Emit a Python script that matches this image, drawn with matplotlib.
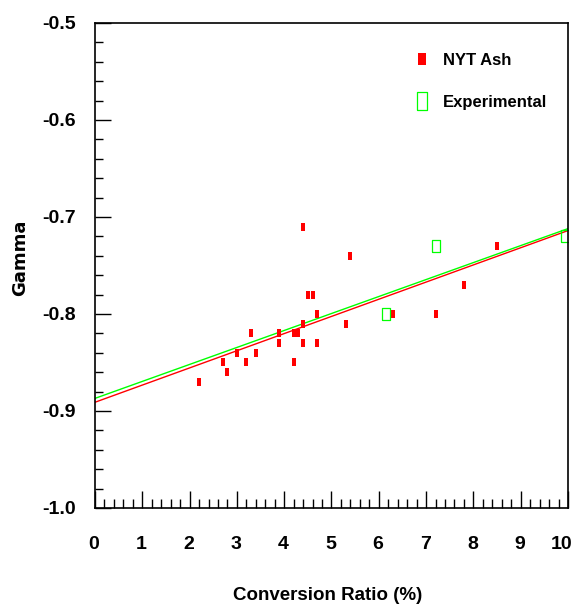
import matplotlib
matplotlib.use("Agg")
import matplotlib.pyplot as plt
import matplotlib.transforms as mtransforms
from matplotlib.lines import Line2D
from matplotlib.ticker import MultipleLocator, FormatStrFormatter
import numpy as np

# data
nyt_x = [2.2, 2.7, 2.8, 3.0, 3.2, 3.3, 3.4, 3.9, 3.9, 4.2, 4.2, 4.3,
         4.4, 4.4, 4.4, 4.5, 4.6, 4.7, 4.7, 5.3, 5.4, 6.3, 7.2, 7.8, 8.5]
nyt_y = [-0.87, -0.85, -0.86, -0.84, -0.85, -0.82, -0.84, -0.82, -0.83, -0.82, -0.85, -0.82,
         -0.71, -0.81, -0.83, -0.78, -0.78, -0.80, -0.83, -0.81, -0.74, -0.80, -0.80, -0.77, -0.73]
exp_x = [6.15, 7.2, 9.93]
exp_y = [-0.80, -0.73, -0.72]

# linear fits (intercept, slope) as drawn in the reference
nyt_fit = (-0.891, 0.0177)
exp_fit = (-0.887, 0.0175)

RED = "#ff0000"
GREEN = "#00ff00"
FONT = ["Liberation Sans", "DejaVu Sans"]

# tall thin rectangle marker
rect = [(-0.3, -0.5), (0.3, -0.5), (0.3, 0.5), (-0.3, 0.5), (-0.3, -0.5)]

fig = plt.figure(figsize=(5.77, 6.13), dpi=100)
ax = fig.add_axes([0.1646, 0.1713, 0.8198, 0.7912])

xs = np.array([0.0, 10.0])
ax.plot(xs, nyt_fit[0] + nyt_fit[1] * xs, color=RED, lw=1.0)
ax.plot(xs, exp_fit[0] + exp_fit[1] * xs, color=GREEN, lw=1.0)

ax.plot(nyt_x, nyt_y, ls="none", marker=rect, ms=5.8, color=RED, mec=RED, mew=0)
ax.plot(exp_x, exp_y, ls="none", marker=rect, ms=9, mfc="none", mec=GREEN, mew=0.9)

ax.set_xlim(0, 10)
ax.set_ylim(-1.0, -0.5)
ax.xaxis.set_major_locator(MultipleLocator(1))
ax.xaxis.set_minor_locator(MultipleLocator(0.2))
ax.yaxis.set_major_locator(MultipleLocator(0.1))
ax.yaxis.set_minor_locator(MultipleLocator(0.02))
ax.xaxis.set_major_formatter(FormatStrFormatter("%g"))
ax.yaxis.set_major_formatter(FormatStrFormatter("%.1f"))
ax.tick_params(axis="x", which="major", direction="in", length=12, width=1, pad=20)
ax.tick_params(axis="x", which="minor", direction="in", length=6.5, width=1)
ax.tick_params(axis="y", which="major", direction="in", length=11.5, width=1, pad=14)
ax.tick_params(axis="y", which="minor", direction="in", length=5.8, width=1)

for lab in ax.get_xticklabels() + ax.get_yticklabels():
    lab.set_family(FONT)
    lab.set_fontweight("bold")
    lab.set_fontsize(14)

# x labels sit slightly left of their ticks; "10" is pulled in to fit the edge
fig.canvas.draw()
for tick in ax.xaxis.get_major_ticks():
    dx = -6 if abs(tick.get_loc() - 10) < 1e-9 else -1
    shift = mtransforms.ScaledTranslation(dx / 100, 0, fig.dpi_scale_trans)
    tick.label1.set_transform(tick.label1.get_transform() + shift)

for sp in ax.spines.values():
    sp.set_linewidth(1.2)

fig.text(0.567, 0.028, "Conversion Ratio (%)", ha="center", va="center",
         family=FONT, fontweight="bold", fontsize=13.5)
fig.text(0.035, 0.58, "Gamma", ha="center", va="center", rotation=90,
         family="DejaVu Sans", fontweight="bold", fontsize=13)

handles = [
    Line2D([], [], ls="none", marker=rect, ms=8.6, color=RED, mew=0),
    Line2D([], [], ls="none", marker=rect, ms=13, mfc="none", mec=GREEN, mew=0.9),
]
leg = ax.legend(handles, ["NYT Ash", "Experimental"], loc="upper left",
                bbox_to_anchor=(0.642, 0.969), frameon=False, handlelength=1.0,
                handletextpad=0.75, labelspacing=1.6,
                prop={"family": FONT, "weight": "bold", "size": 12})

fig.savefig("out.png", dpi=100)
